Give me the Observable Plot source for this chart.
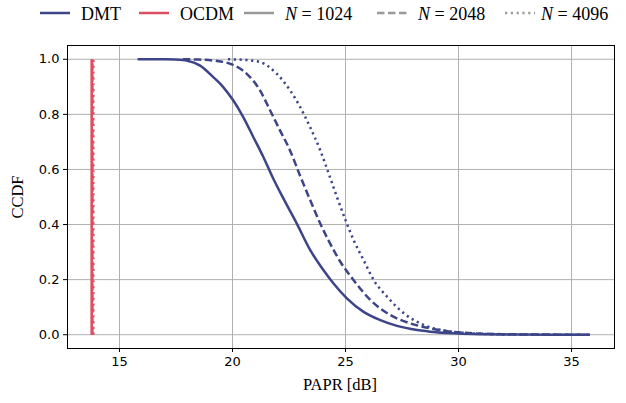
<!DOCTYPE html>
<html>
<head>
<meta charset="utf-8">
<script src="https://cdn.jsdelivr.net/npm/d3@7"></script>
<script src="https://cdn.jsdelivr.net/npm/@observablehq/plot@0.6"></script>
<style>
  body { margin: 0; background: #fff; }
  #wrap { position: relative; width: 626px; height: 403px; overflow: hidden; }
  .lg { position: absolute; top: 3px; font-family: "Liberation Serif", serif; font-size: 18px; line-height: 22px; color: #000; white-space: nowrap; }
  .sw { position: absolute; top: 8px; }
  .axl { position: absolute; font-family: "Liberation Serif", serif; font-size: 16.5px; color: #000; white-space: nowrap; }
</style>
</head>
<body>
<div id="wrap"></div>
<script>
// ---- data ----
const dmtLabels = ["N = 1024", "N = 2048", "N = 4096"];
const dmt1024X = [15.8, 16.5, 17.0, 17.5, 18.0, 18.55, 19.14, 19.58, 20.03, 20.47, 20.92, 21.36, 21.8, 22.25, 22.84, 23.44, 24.02, 24.47, 25.06, 25.8, 26.54, 27.28, 28.17, 29.0, 30.0, 31.0, 32.5, 34.0, 35.8];
const dmt1024Y = [1.0, 1.0, 1.0, 0.999, 0.995, 0.978, 0.936, 0.90, 0.851, 0.791, 0.718, 0.646, 0.567, 0.495, 0.404, 0.307, 0.235, 0.186, 0.132, 0.083, 0.053, 0.032, 0.017, 0.009, 0.004, 0.002, 0.001, 0.0, 0.0];
const dmt2048X = [17.8, 18.5, 19.2, 19.88, 20.62, 21.21, 21.66, 22.1, 22.54, 22.99, 23.43, 23.88, 24.32, 24.77, 25.36, 26.1, 26.99, 27.87, 28.76, 29.5, 30.5, 32.0, 34.0, 35.8];
const dmt2048Y = [1.0, 0.999, 0.995, 0.984, 0.948, 0.888, 0.815, 0.742, 0.67, 0.577, 0.49, 0.404, 0.331, 0.265, 0.198, 0.126, 0.071, 0.041, 0.023, 0.013, 0.006, 0.002, 0.0005, 0.0];
const dmt4096X = [19.8, 20.5, 21.21, 21.95, 22.54, 22.99, 23.43, 23.88, 24.32, 24.62, 25.0, 25.36, 25.8, 26.25, 26.84, 27.58, 28.47, 29.3, 30.2, 31.5, 33.0, 35.8];
const dmt4096Y = [1.0, 0.998, 0.99, 0.948, 0.888, 0.827, 0.754, 0.67, 0.57, 0.50, 0.416, 0.343, 0.271, 0.198, 0.138, 0.078, 0.035, 0.016, 0.007, 0.002, 0.0005, 0.0];
// OCDM: constant PAPR per N (CCDF steps from 1 to 0)
const ocdmPAPR = [13.77, 13.80, 13.84];
const ocdmY = [0, 1];
const xTicks = [15, 20, 25, 30, 35];
const yTicks = [0, 0.2, 0.4, 0.6, 0.8, 1.0];

const DMT_COLOR = "#3d4588";
const OCDM_COLOR = "#dd4f60";
const dashes = [null, "7.5,3.5", "2.2,3.6"];

const toRows = (xs, ys) => xs.map((x, i) => ({x, y: ys[i]}));
const dmtSeries = [toRows(dmt1024X, dmt1024Y), toRows(dmt2048X, dmt2048Y), toRows(dmt4096X, dmt4096Y)];
const ocdmSeries = ocdmPAPR.map(p => ocdmY.map(y => ({x: p, y})));

const marks = [
  Plot.gridX(xTicks, {stroke: "#b0b0b0", strokeOpacity: 1, strokeWidth: 1}),
  Plot.gridY(yTicks, {stroke: "#b0b0b0", strokeOpacity: 1, strokeWidth: 1}),
  Plot.axisX(xTicks, {tickSize: 4, tickPadding: 4, label: null, fontSize: 13}),
  Plot.axisY(yTicks, {tickSize: 4, tickPadding: 4, label: null, tickFormat: d3.format(".1f"), fontSize: 13}),
];
ocdmSeries.forEach((rows, i) => {
  marks.push(Plot.line(rows, {x: "x", y: "y", stroke: OCDM_COLOR, strokeWidth: 2.6, strokeDasharray: dashes[i], strokeLinecap: "butt"}));
});
dmtSeries.forEach((rows, i) => {
  marks.push(Plot.line(rows, {x: "x", y: "y", stroke: DMT_COLOR, strokeWidth: 2.5, strokeDasharray: dashes[i], strokeLinecap: "butt", curve: "monotone-x"}));
});
marks.push(Plot.frame({stroke: "#000", strokeWidth: 1}));

const chart = Plot.plot({
  width: 626,
  height: 403,
  marginLeft: 67,
  marginRight: 12,
  marginTop: 45,
  marginBottom: 55,
  style: {fontFamily: "DejaVu Sans", fontSize: "13px", color: "#000", background: "#fff"},
  x: {domain: [12.7, 36.9]},
  y: {domain: [-0.05, 1.05]},
  marks
});
const wrap = document.getElementById("wrap");
wrap.appendChild(chart);

// ---- legend ----
function swatch(left, color, dash) {
  const ns = "http://www.w3.org/2000/svg";
  const s = document.createElementNS(ns, "svg");
  s.setAttribute("width", 32); s.setAttribute("height", 10);
  s.setAttribute("class", "sw");
  s.style.left = left + "px";
  const l = document.createElementNS(ns, "line");
  l.setAttribute("x1", 0); l.setAttribute("x2", 30); l.setAttribute("y1", 5); l.setAttribute("y2", 5);
  l.setAttribute("stroke", color); l.setAttribute("stroke-width", 2.5);
  if (dash) l.setAttribute("stroke-dasharray", dash);
  s.appendChild(l);
  wrap.appendChild(s);
}
function label(left, html) {
  const d = document.createElement("div");
  d.className = "lg"; d.style.left = left + "px"; d.innerHTML = html;
  wrap.appendChild(d);
}
const eq = "<i>N</i>&nbsp;=&nbsp;";
swatch(40, DMT_COLOR, null); label(81, "DMT");
swatch(139, OCDM_COLOR, null); label(180, "OCDM");
swatch(244, "#999", null); label(285, eq + "1024");
swatch(377, "#999", dashes[1]); label(418, eq + "2048");
swatch(505, "#999", dashes[2]); label(541, eq + "4096");

// ---- axis labels ----
const xl = document.createElement("div");
xl.className = "axl"; xl.textContent = "PAPR [dB]";
xl.style.left = "340px"; xl.style.top = "375px"; xl.style.transform = "translateX(-50%)";
wrap.appendChild(xl);
const yl = document.createElement("div");
yl.className = "axl"; yl.textContent = "CCDF";
yl.style.left = "18px"; yl.style.top = "197px"; yl.style.transform = "translate(-50%,-50%) rotate(-90deg)";
wrap.appendChild(yl);
</script>
</body>
</html>
